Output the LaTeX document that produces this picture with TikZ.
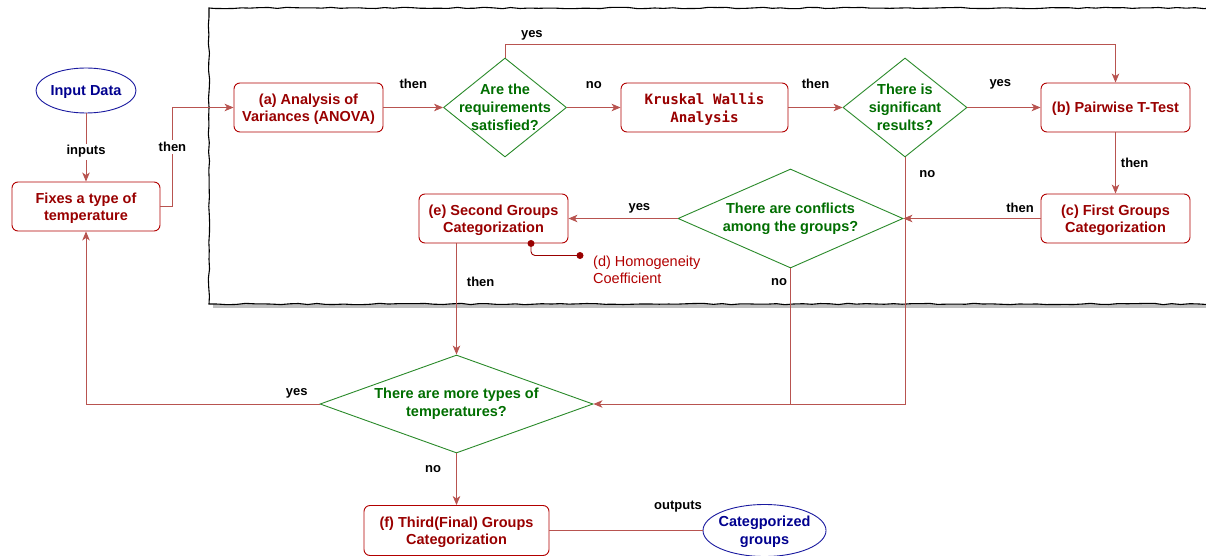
\documentclass[tikz,border=0pt]{standalone}
\usepackage{fontspec}
\setmainfont{Liberation Sans}
\newfontfamily\kwfont{DejaVu Sans Mono}
\usetikzlibrary{shapes.geometric,arrows.meta,decorations.pathmorphing}
\definecolor{boxred}{HTML}{B20000}
\definecolor{textred}{HTML}{990000}
\definecolor{linered}{HTML}{B85450}
\definecolor{decgreen}{HTML}{2A8A2A}
\definecolor{textgreen}{HTML}{006E00}
\definecolor{ovalblue}{HTML}{1A1AA0}
\definecolor{textblue}{HTML}{00008F}
\begin{document}
\pgfmathsetseed{5}
\begin{tikzpicture}[x=1pt, y=-1pt, >={Stealth[length=9pt,width=7.5pt,inset=2.5pt]},
  box/.style={draw=boxred, fill=white, line width=0.9pt, rounded corners=6pt, minimum width=149pt, minimum height=49pt, inner sep=2pt, align=center, text=textred, font=\fontsize{14.5}{17.5}\selectfont\bfseries, text depth=-6pt},
  decision/.style={draw=decgreen, fill=white, line width=0.9pt, diamond, inner sep=0pt},
  dectext/.style={align=center, text=textgreen, font=\fontsize{14.5}{18}\selectfont\bfseries},
  oval/.style={draw=ovalblue, fill=white, line width=0.9pt, ellipse, inner sep=0pt},
  ovaltext/.style={align=center, text=textblue, font=\fontsize{14.5}{17.5}\selectfont\bfseries, yshift=-1.5pt},
  flow/.style={draw=linered, line width=0.9pt},
  lbl/.style={text=black, inner sep=2pt, font=\fontsize{13}{15}\selectfont\bfseries},
  onlbl/.style={lbl, fill=white},
  frame/.style={draw=black, line width=1.1pt, decorate, decoration={random steps, segment length=9pt, amplitude=0.7pt}}]
\useasboundingbox (0,0) rectangle (1206,556);

% frame round the inner loop
\fill[black!25] (213,10) rectangle (1216,308);
\draw[frame, fill=white] (209,8) rectangle (1213,304);

% nodes
\node[oval, minimum width=100pt, minimum height=45pt, label={[ovaltext]center:Input Data}] (input) at (86,90.5) {};
\node[box, minimum width=148pt] (fix) at (86,206.5) {Fixes a type of\\temperature};
\node[box] (anova) at (308.5,107.5) {(a) Analysis of\\Variances (ANOVA)};
\node[decision, minimum width=123pt, minimum height=99pt, label={[dectext]center:Are the\\requirements\\satisfied?}] (req) at (505,107.5) {};
\node[box, minimum width=167pt, font=\kwfont\fontsize{14.2}{18}\selectfont\bfseries] (kw) at (704.5,107.5) {Kruskal Wallis\\Analysis};
\node[decision, minimum width=124pt, minimum height=99pt, label={[dectext]center:There is\\significant\\results?}] (sig) at (905,107.5) {};
\node[box] (pw) at (1115.5,107.5) {(b) Pairwise T-Test};
\node[box] (first) at (1115.5,218.5) {(c) First Groups\\Categorization};
\node[decision, minimum width=225pt, minimum height=99pt, label={[dectext]center:There are conflicts\\among the groups?}] (conf) at (790.5,218.5) {};
\node[box] (second) at (493.5,218.5) {(e) Second Groups\\Categorization};
\node[anchor=west, align=left, text=boxred, inner sep=0pt, font=\fontsize{14.5}{17}\selectfont] (homog) at (593,269.5) {(d) Homogeneity\\Coefficient};
\node[decision, minimum width=273pt, minimum height=98pt, label={[dectext]center:There are more types of\\temperatures?}] (more) at (456.5,404) {};
\node[box, minimum width=185pt, minimum height=50pt] (third) at (456.5,530.5) {(f) Third(Final) Groups\\Categorization};
\node[oval, minimum width=123pt, minimum height=52pt, label={[ovaltext]center:Categporized\\groups}] (outg) at (764.5,530.5) {};

% connectors
\draw[flow, ->] (input) -- node[onlbl, pos=0.56] (l1) {inputs} (fix);
\draw[flow, ->] (fix.east) -- ++(12,0) |- node[onlbl, pos=0.3] (l2) {then} (anova.west);
\draw[flow, ->] (anova) -- node[lbl, above=16pt] (l3) {then} (req);
\draw[flow, ->] (req) -- node[lbl, above=16pt] (l4) {no} (kw);
\draw[flow, ->] (kw) -- node[lbl, above=16pt] (l5) {then} (sig);
\draw[flow, ->] (sig) -- node[lbl, above=16pt, pos=0.45] (l6) {yes} (pw);
\draw[flow, ->] (req.north) -- ++(0,-13) -| node[lbl, above=2pt, pos=0.022] (l7) {yes} (pw.north);
\draw[flow, ->] (pw) -- node[lbl, right=3pt] (l8) {then} (first);
\draw[flow, ->] (first) -- node[lbl, above=3pt, pos=0.15] (l9) {then} (conf);
\draw[flow, ->] (conf) -- node[lbl, above=3pt, pos=0.35] (l10) {yes} (second);
\draw[flow, ->] (second.south -| more.north) -- node[lbl, right=8pt, pos=0.35] (l11) {then} (more.north);
\draw[flow, ->] (sig.south) |- node[lbl, right=12pt, pos=0.034] (l12) {no} (more.east);
\draw[flow] (conf.south) -- node[lbl, left=1pt, pos=0.1] (l13) {no} (conf.south |- more.east);
\draw[flow, ->] (more.west) -| node[lbl, above=3pt, pos=0.049] (l14) {yes} (fix.south);
\draw[flow, ->] (more.south) -- node[lbl, left=13pt, pos=0.3] (l15) {no} (third.north);
\draw[flow] (third) -- node[lbl, above=16pt, pos=0.84] (l16) {outputs} (outg);

% homogeneity link
\coordinate (hstart) at ([xshift=37.5pt]second.south);
\coordinate (hend) at (580,255.5);
\draw[textred, line width=0.9pt, rounded corners=4pt] (hstart) |- (hend);
\fill[textred] (hstart) circle (3.5pt) (hend) circle (3.5pt);
\end{tikzpicture}
\end{document}
